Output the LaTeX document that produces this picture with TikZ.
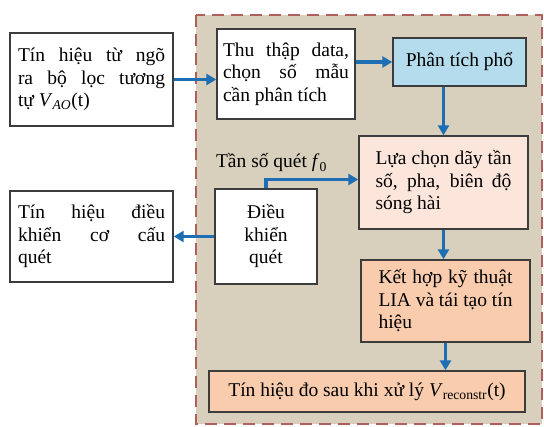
\documentclass[tikz,border=0pt]{standalone}
\usepackage{fontspec}
\setmainfont{Liberation Serif}
\usetikzlibrary{arrows.meta}
\definecolor{panel}{HTML}{D8D0BC}
\definecolor{dashred}{HTML}{B0605C}
\definecolor{boxline}{HTML}{3C3C3C}
\definecolor{arrowblue}{HTML}{1E6EB4}
\definecolor{lightblue}{HTML}{B4DCEC}
\definecolor{peachlight}{HTML}{FCE6DC}
\definecolor{peach}{HTML}{F9CCAE}
\begin{document}
\begin{tikzpicture}[x=1pt,y=-1pt,
  font=\fontsize{19.5}{22.5}\selectfont,
  box/.style={draw=boxline, line width=1.4pt, inner ysep=0pt, align=justify},
  arr/.style={draw=arrowblue, line width=3.4pt, -{Triangle[length=10pt,width=11pt]}}]
\useasboundingbox (0,0) rectangle (544,427);
\draw[draw=dashred, fill=panel, line width=2.2pt, dash pattern=on 12pt off 7pt] (196,15) rectangle (542,424);

\node[box, fill=white, text width=147pt, inner xsep=8pt, minimum height=93pt] (b1) at (91.5,79.5)
  {Tín hiệu từ ngõ\linebreak ra bộ lọc tương\linebreak tự \textit{V}\textsubscript{\textit{AO}}(t)};
\node[box, fill=white, text width=147pt, inner xsep=8pt, minimum height=91pt] (b6) at (91.5,236.5)
  {Tín hiệu điều\linebreak khiển cơ cấu\linebreak quét};
\node[box, fill=white, text width=126pt, inner xsep=6pt, minimum height=90pt] (b2) at (286,74)
  {Thu thập data,\linebreak chọn số mẫu\linebreak cần phân tích};
\node[box, fill=lightblue, align=center, minimum width=133pt, minimum height=48pt] (b3) at (459.5,62)
  {Phân tích phổ};
\node[box, fill=peachlight, text width=136pt, inner xsep=16.5pt, minimum height=93pt] (b4) at (443.5,182.5)
  {Lựa chọn dãy tần\linebreak số, pha, biên độ\linebreak sóng hài};
\node[box, fill=white, align=center, text width=90pt, inner xsep=6pt, minimum height=95pt] (b5) at (266,236.5)
  {Điều\\ khiển\\ quét};
\node[box, fill=peach, text width=134pt, inner xsep=17.5pt, minimum height=82pt] (b7) at (445.5,301)
  {Kết hợp kỹ thuật\linebreak LIA và tái tạo tín\linebreak hiệu};
\node[box, fill=peach, align=center, minimum width=316pt, minimum height=41pt] (b8) at (367,391.5)
  {Tín hiệu đo sau khi xử lý \textit{V}\textsubscript{reconstr}(t)};
\node[anchor=base, inner sep=0pt] (lbl) at (271.5,168) {Tần số quét \textit{f}\textsubscript{0}};

\draw[arr] (b1.east) -- (b1.east -| b2.west);
\draw[arr] (b2.east |- b3.west) -- (b3.west);
\draw[arr] (b3.south -| b4.north) -- (b4.north);
\draw[arr] (b4.south) -- (b4.south |- b7.north);
\draw[arr] (b7.south) -- (b7.south |- b8.north);
\draw[arr] (b5.west) -- (b5.west -| b6.east);
\draw[arr] (b5.north) |- ([yshift=3pt]b4.west);
\end{tikzpicture}
\end{document}
